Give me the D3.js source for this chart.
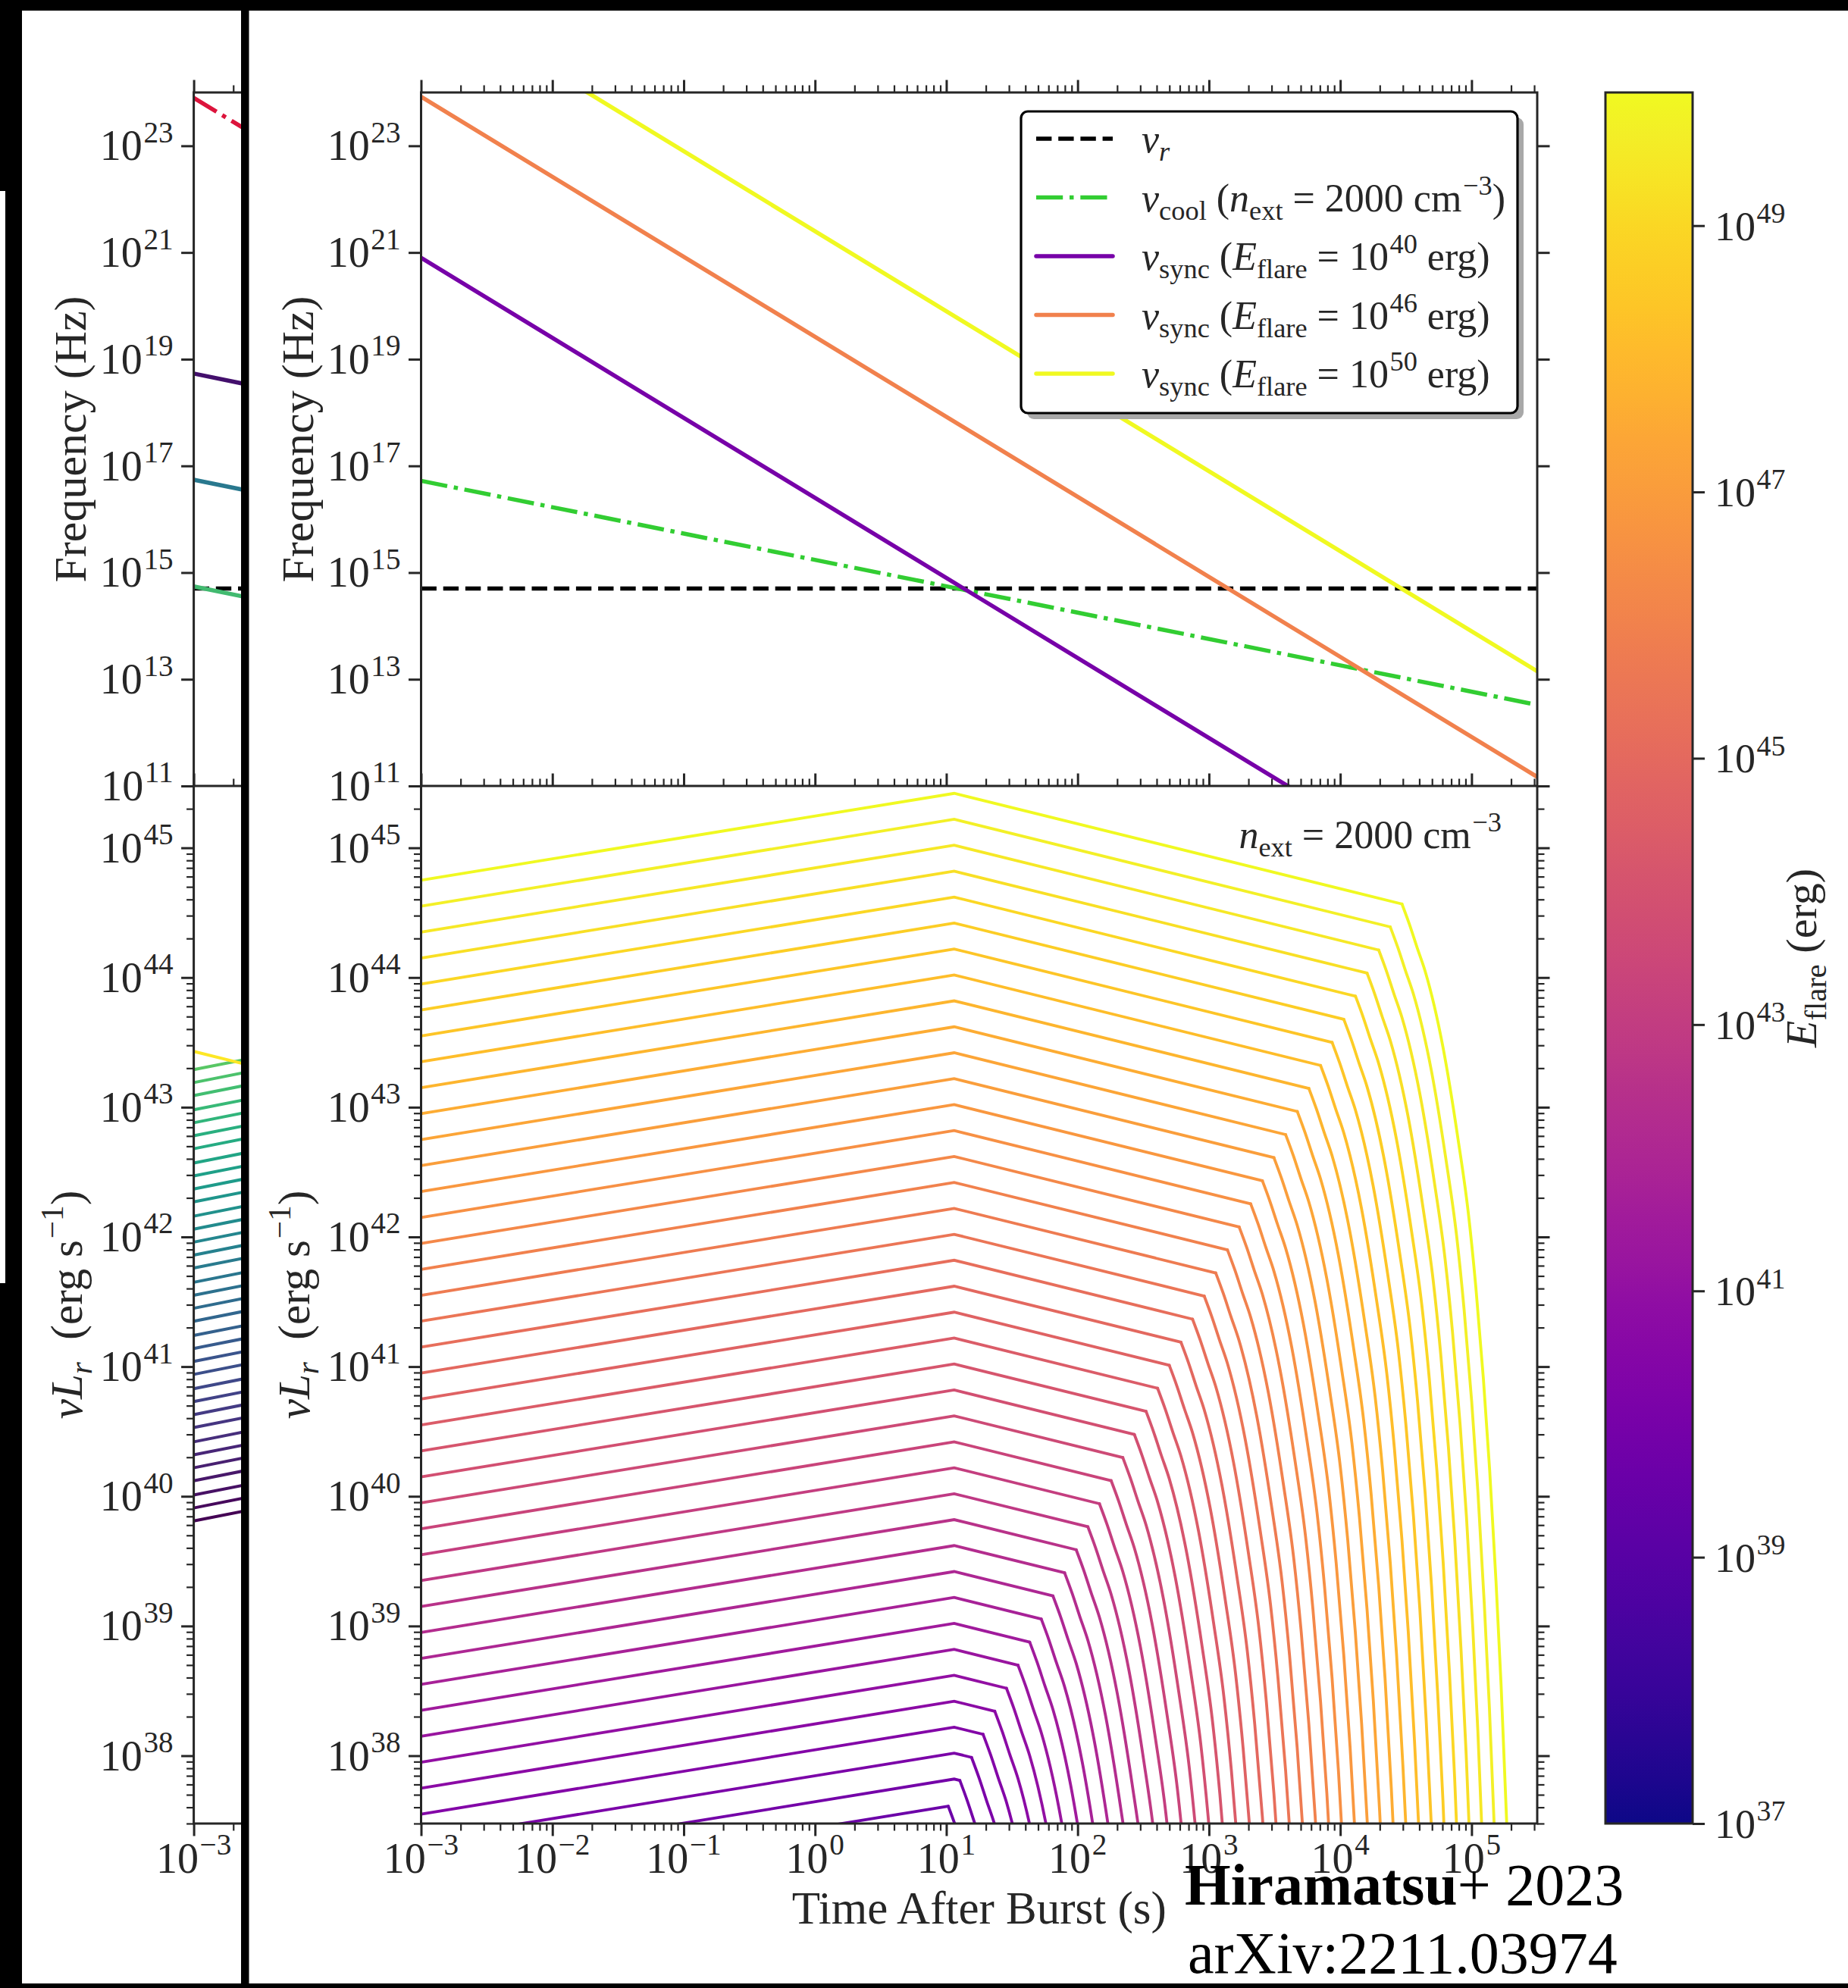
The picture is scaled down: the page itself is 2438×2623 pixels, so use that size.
<!DOCTYPE html>
<html><head><meta charset="utf-8">
<script src="https://cdn.jsdelivr.net/npm/d3@7"></script>
<style>
html,body{margin:0;padding:0;background:#fff;}
svg{display:block;}
text{font-family:"Liberation Serif","DejaVu Serif",serif;fill:#262626;white-space:pre;}
</style></head><body>
<svg id="chart" width="2438" height="2623"></svg>
<script>
// ================= DATA (log10 values) =================
const timeDomainLog = [-3, 5.5];          // Time after burst (s)
const freqDomainLog = [11, 24];           // Frequency (Hz)
const lumDomainLog  = [37.477, 45.477];   // nu L_r (erg/s)
const energyDomainLog = [37, 50];         // E_flare colorbar (erg)

const timeTickExps   = [-3,-2,-1,0,1,2,3,4,5];
const freqTickExps   = [11,13,15,17,19,21,23];
const lumTickExps    = [38,39,40,41,42,43,44,45];
const energyTickExps = [37,39,41,43,45,47,49];

// top panel: straight lines in log-log, [log t, log nu]
const nuR      = [[-3, 14.70],[5.5, 14.70]];
const nuCool   = [[-3, 16.72],[5.5, 12.52]];
const nuSync40 = [[-3, 20.90],[5.5, 8.15]];
const nuSync46 = [[-3, 23.92],[5.5, 11.17]];
const nuSync50 = [[-3, 25.90],[5.5, 13.15]];
const legendEnergies = [40, 46, 50];

// bottom panel light curves (one entry per flare energy)
const flareLogE = [50.00,49.73,49.47,49.20,48.94,48.67,48.41,48.14,47.88,47.61,
  47.35,47.08,46.82,46.55,46.29,46.02,45.76,45.49,45.22,44.96,
  44.69,44.43,44.16,43.90,43.63,43.37,43.10,42.84,42.57,42.31,
  42.04,41.78,41.51,41.24,40.98,40.71,40.45,40.18,39.92,39.65];
const startLogT = -3;
const peakLogT  = 1.06;
const lumStart = [44.75,44.55,44.35,44.15,43.95,43.75,43.55,43.35,43.15,42.95,
  42.75,42.55,42.35,42.15,41.95,41.75,41.55,41.35,41.15,40.95,
  40.75,40.55,40.35,40.15,39.95,39.75,39.55,39.35,39.15,38.95,
  38.75,38.55,38.35,38.15,37.95,37.75,37.55,37.35,37.15,36.95];
const lumPeak = [45.42,45.22,45.02,44.82,44.62,44.42,44.22,44.02,43.82,43.62,
  43.42,43.22,43.02,42.82,42.62,42.42,42.22,42.02,41.82,41.62,
  41.42,41.22,41.02,40.82,40.62,40.42,40.22,40.02,39.82,39.62,
  39.42,39.22,39.02,38.82,38.62,38.42,38.22,38.02,37.82,null];
const breakLogT = [4.470,4.381,4.293,4.204,4.116,4.027,3.938,3.850,3.761,3.673,
  3.584,3.495,3.407,3.318,3.230,3.141,3.052,2.964,2.875,2.787,
  2.698,2.609,2.521,2.432,2.344,2.255,2.166,2.078,1.989,1.901,
  1.812,1.723,1.635,1.546,1.458,1.369,1.280,1.192,1.103,1.015];
const lumBreak = [44.567,44.390,44.212,44.034,43.856,43.678,43.500,43.322,43.145,42.967,
  42.789,42.611,42.433,42.255,42.077,41.900,41.722,41.544,41.366,41.188,
  41.010,40.833,40.655,40.477,40.299,40.121,39.943,39.765,39.588,39.410,
  39.232,39.054,38.876,38.698,38.520,38.343,38.165,37.987,37.809,37.610];
// shape of the cut-off after the break, [delta log t, delta log L]
const dropShape = [[0,0],[0.058,-0.16],[0.115,-0.335],[0.177,-0.52],[0.312,-1.103],
  [0.427,-1.813],[0.505,-2.38],[0.562,-2.948],[0.62,-3.66],[0.668,-4.368],
  [0.716,-5.22],[0.755,-6.024],[0.797,-7.07],[0.84,-8.3]];

// partially hidden left panel
const leftTopStart = [23.90, 18.73, 16.74, 14.70, 14.74];
const leftTopEnd   = [23.15, 18.48, 16.49, 14.70, 14.49];
const leftTopColors = ['#dc143c','#430f6c','#29788e','#000000','#42ba70'];
const leftTopDash = ['dashdot','solid','solid','dashed','solid'];
const leftLumStart = [43.29,43.19,43.09,42.98,42.88,42.78,42.68,42.57,42.47,42.37,
  42.27,42.16,42.06,41.96,41.86,41.76,41.65,41.55,41.45,41.35,
  41.24,41.14,41.04,40.94,40.83,40.73,40.63,40.53,40.42,40.32,
  40.22,40.12,40.01,39.91,39.81];
const leftLumEnd = [43.37,43.27,43.17,43.06,42.96,42.86,42.76,42.65,42.55,42.45,
  42.35,42.24,42.14,42.04,41.94,41.84,41.73,41.63,41.53,41.43,
  41.32,41.22,41.12,41.02,40.91,40.81,40.71,40.61,40.50,40.40,
  40.30,40.20,40.09,39.99,39.89];
const leftYellow = [[-3, 43.43],[-2.6, 43.33]];

// ================= DRAWING =================
const W = 2438, H = 2623, INK = '#262626';
const p10 = v => Math.pow(10, v);
const svg = d3.select('#chart');
svg.append('rect').attr('width', W).attr('height', H).attr('fill', '#fff');

const P = {x0: 555.5, x1: 2028, yTop: 122, yMid: 1037, yBot: 2406};
const LX0 = 255.6, LCLIP = 318;

const xMain = d3.scaleLog().domain(timeDomainLog.map(p10)).range([P.x0, P.x1]);
const xLeft = d3.scaleLog().domain(timeDomainLog.map(p10)).range([LX0, LX0 + (P.x1 - P.x0)]);
const yFreq = d3.scaleLog().domain(freqDomainLog.map(p10)).range([P.yMid, P.yTop]);
const yLum  = d3.scaleLog().domain(lumDomainLog.map(p10)).range([P.yBot, P.yMid]);
const cbY   = d3.scaleLog().domain(energyDomainLog.map(p10)).range([2406, 122]);
const plasma = e => d3.interpolatePlasma((e - energyDomainLog[0]) / (energyDomainLog[1] - energyDomainLog[0]));

const defs = svg.append('defs');
function clip(id, x, y, w, h){ defs.append('clipPath').attr('id', id).append('rect').attr('x',x).attr('y',y).attr('width',w).attr('height',h); }
clip('clipTop', P.x0, P.yTop, P.x1 - P.x0, P.yMid - P.yTop);
clip('clipBot', P.x0, P.yMid, P.x1 - P.x0, P.yBot - P.yMid);
clip('clipLeft', 0, 0, LCLIP, H);
clip('clipLeftTop', LX0, P.yTop, LCLIP - LX0, P.yMid - P.yTop);
clip('clipLeftBot', LX0, P.yMid, LCLIP - LX0, P.yBot - P.yMid);

function addMath(t, segs, size){
  let cur = 0;
  segs.forEach(([str, kind, pos]) => {
    const target = pos === 'sub' ? 0.22*size : pos === 'sup' ? -0.42*size : 0;
    const fs = pos === 'b' ? size : 0.7*size;
    const ts = t.append('tspan').text(str).attr('dy', target - cur)
      .style('font-size', fs + 'px').style('font-style', kind === 'i' ? 'italic' : 'normal');
    if (pos === 'sup') ts.attr('dx', 0.03*size);
    cur = target;
  });
  return t;
}
function powLabel(g, x, y, e, anchor, size){
  const t = g.append('text').attr('x', x).attr('y', y).attr('text-anchor', anchor).style('font-size', size + 'px');
  addMath(t, [['10','r','b'], [(e < 0 ? '\u2212' + (-e) : '' + e), 'r', 'sup']], size);
}
function minorVals(lo, hi){
  const out = [];
  for (let e = Math.floor(lo); e <= Math.ceil(hi); e++)
    for (let k = 2; k <= 9; k++){ const v = Math.log10(k) + e; if (v >= lo - 1e-6 && v <= hi + 1e-6) out.push(p10(v)); }
  return out;
}
function ticks(g, axis, vals, len, w, tx, ty){
  const a = g.append('g').attr('transform', `translate(${tx},${ty})`)
    .call(axis.tickValues(vals).tickSize(len).tickSizeOuter(0).tickFormat(() => ''));
  a.select('.domain').remove();
  a.selectAll('.tick text').remove();
  a.selectAll('.tick line').attr('stroke', INK).attr('stroke-width', w);
}
const dashes = {solid: null, dashed: '20.4 8.8', dashdot: '35.2 8.8 5.5 8.8'};
function line(g, xs, ys, pts, color, w, dash, curve){
  const gen = d3.line().x(d => xs(p10(d[0]))).y(d => ys(p10(d[1])));
  if (curve) gen.curve(curve);
  g.append('path').attr('d', gen(pts)).attr('fill', 'none').attr('stroke', color)
    .attr('stroke-width', w).attr('stroke-dasharray', dashes[dash] || null)
    .attr('stroke-linecap', dash === 'solid' || !dash ? 'round' : 'butt');
}

function frame(g, xs, right){
  const xa = xs.range()[0], xb = right ? xs.range()[1] : LCLIP + 20;
  const visible = v => right || xs(v) < LCLIP;
  const tMaj = timeTickExps.map(p10).filter(visible), tMin = minorVals(timeDomainLog[0], timeDomainLog[1]).filter(visible);
  const fMaj = freqTickExps.map(p10);
  const lMaj = lumTickExps.map(p10), lMin = minorVals(lumDomainLog[0], lumDomainLog[1]);
  ticks(g, d3.axisLeft(yFreq), fMaj, 16.5, 3, xa, 0);
  if (right) ticks(g, d3.axisRight(yFreq), fMaj, 16.5, 3, xb, 0);
  ticks(g, d3.axisTop(xs), tMaj, 16.5, 3, 0, P.yTop);
  ticks(g, d3.axisTop(xs), tMin, 9.5, 2.2, 0, P.yTop);
  ticks(g, d3.axisLeft(yLum), lMaj, 16.5, 3, xa, 0);
  ticks(g, d3.axisLeft(yLum), lMin, 9.5, 2.2, xa, 0);
  if (right){ ticks(g, d3.axisRight(yLum), lMaj, 16.5, 3, xb, 0); ticks(g, d3.axisRight(yLum), lMin, 9.5, 2.2, xb, 0); }
  ticks(g, d3.axisBottom(xs), tMaj, 16.5, 3, 0, P.yBot);
  ticks(g, d3.axisBottom(xs), tMin, 9.5, 2.2, 0, P.yBot);
  ticks(g, d3.axisTop(xs), tMaj, 16.5, 3, 0, P.yMid);
  ticks(g, d3.axisTop(xs), tMin, 9.5, 2.2, 0, P.yMid);
  g.append('rect').attr('x', xa).attr('y', P.yTop).attr('width', xb - xa).attr('height', P.yBot - P.yTop)
    .attr('fill', 'none').attr('stroke', INK).attr('stroke-width', 3);
  g.append('line').attr('x1', xa).attr('x2', xb).attr('y1', P.yMid).attr('y2', P.yMid).attr('stroke', INK).attr('stroke-width', 3);
  freqTickExps.forEach(e => powLabel(g, xa - 27, yFreq(p10(e)) + 19, e, 'end', 56));
  lumTickExps.forEach(e => powLabel(g, xa - 27, yLum(p10(e)) + 19, e, 'end', 56));
  timeTickExps.filter(e => visible(p10(e))).forEach(e => powLabel(g, xs(p10(e)), 2471, e, 'middle', 56));
  const bx = xa - 143;
  g.append('text').attr('transform', `translate(${bx},${(P.yTop + P.yMid)/2}) rotate(-90)`)
    .attr('text-anchor', 'middle').style('font-size', '60px').text('Frequency (Hz)');
  const t2 = g.append('text').attr('transform', `translate(${bx - 5},${(P.yMid + P.yBot)/2}) rotate(-90)`)
    .attr('text-anchor', 'middle').style('font-size', '59px');
  addMath(t2, [['\u03bd','i','b'],['L','i','b'],['r','i','sub'],['  (erg s','r','b'],['\u22121','r','sup'],[')','r','b']], 59);
}

// ---------- left, partially hidden panel ----------
const gL = svg.append('g').attr('clip-path', 'url(#clipLeft)');
const gLT = gL.append('g').attr('clip-path', 'url(#clipLeftTop)');
leftTopStart.forEach((v, i) => line(gLT, xLeft, yFreq, [[-3, v], [-2.5, leftTopEnd[i]]], leftTopColors[i], 5.5, leftTopDash[i]));
const gLB = gL.append('g').attr('clip-path', 'url(#clipLeftBot)');
const vir = d3.scaleLinear().domain([leftLumStart.length - 1, 0]).range([0, 0.74]);
leftLumStart.forEach((v, i) => line(gLB, xLeft, yLum, [[-3, v], [-2.6, leftLumEnd[i]]], d3.interpolateViridis(vir(i)), 4, 'solid'));
line(gLB, xLeft, yLum, leftYellow, d3.interpolateViridis(1), 4, 'solid');
frame(gL, xLeft, false);

// ---------- main top panel ----------
const gT = svg.append('g').attr('clip-path', 'url(#clipTop)');
line(gT, xMain, yFreq, nuR, '#000', 5.5, 'dashed');
line(gT, xMain, yFreq, nuCool, '#32cd32', 5.5, 'dashdot');
line(gT, xMain, yFreq, nuSync40, plasma(legendEnergies[0]), 5.5, 'solid');
line(gT, xMain, yFreq, nuSync46, plasma(legendEnergies[1]), 5.5, 'solid');
line(gT, xMain, yFreq, nuSync50, plasma(legendEnergies[2]), 5.5, 'solid');

// ---------- main bottom panel ----------
const gB = svg.append('g').attr('clip-path', 'url(#clipBot)');
flareLogE.slice().reverse().forEach((e, r) => {
  const i = flareLogE.length - 1 - r;
  const col = plasma(flareLogE[i]);
  const pre = [[startLogT, lumStart[i]]];
  if (lumPeak[i] !== null) pre.push([peakLogT, lumPeak[i]]);
  pre.push([breakLogT[i], lumBreak[i]]);
  const drop = dropShape.map(([dt, dl]) => [breakLogT[i] + dt, lumBreak[i] + dl]);
  line(gB, xMain, yLum, pre, col, 3.8, 'solid');
  line(gB, xMain, yLum, drop, col, 3.8, 'solid', d3.curveMonotoneX);
});
const gM = svg.append('g');
frame(gM, xMain, true);

// annotation
addMath(gM.append('text').attr('x', 1981).attr('y', 1119).attr('text-anchor', 'end').style('font-size', '52px'),
  [['n','i','b'],['ext','r','sub'],[' = 2000 cm','r','b'],['\u22123','r','sup']], 52);

// x axis title
gM.append('text').attr('x', (P.x0 + P.x1)/2).attr('y', 2538).attr('text-anchor', 'middle')
  .style('font-size', '61px').text('Time After Burst (s)');

// ---------- legend ----------
const LG = {x: 1347, y: 147, w: 655, h: 398};
gM.append('rect').attr('x', LG.x + 8).attr('y', LG.y + 8).attr('width', LG.w).attr('height', LG.h).attr('rx', 9).attr('fill', '#a8a8a8');
gM.append('rect').attr('x', LG.x).attr('y', LG.y).attr('width', LG.w).attr('height', LG.h).attr('rx', 9)
  .attr('fill', '#fff').attr('stroke', '#000').attr('stroke-width', 3.2);
const legendRows = [
  {color: '#000', dash: 'dashed', segs: [['\u03bd','i','b'],['r','i','sub']]},
  {color: '#32cd32', dash: 'dashdot', segs: [['\u03bd','i','b'],['cool','r','sub'],[' (','r','b'],['n','i','b'],['ext','r','sub'],[' = 2000 cm','r','b'],['\u22123','r','sup'],[')','r','b']]},
];
legendEnergies.forEach(e => legendRows.push({color: plasma(e), dash: 'solid',
  segs: [['\u03bd','i','b'],['sync','r','sub'],[' (','r','b'],['E','i','b'],['flare','r','sub'],[' = 10','r','b'],['' + e,'r','sup'],[' erg)','r','b']]}));
legendRows.forEach((row, k) => {
  const yy = 183 + 77.5*k;
  gM.append('line').attr('x1', 1367).attr('x2', 1468).attr('y1', yy).attr('y2', yy)
    .attr('stroke', row.color).attr('stroke-width', 5.5).attr('stroke-dasharray', dashes[row.dash])
    .attr('stroke-linecap', row.dash === 'solid' ? 'round' : 'butt');
  addMath(gM.append('text').attr('x', 1506).attr('y', yy + 18).style('font-size', '52px'), row.segs, 52);
});

// ---------- colorbar ----------
const grad = defs.append('linearGradient').attr('id', 'cbGrad').attr('x1', 0).attr('x2', 0).attr('y1', 0).attr('y2', 1);
d3.range(0, 41).forEach(k => grad.append('stop').attr('offset', k/40).attr('stop-color', d3.interpolatePlasma(1 - k/40)));
const CB = {x: 2118, w: 115};
gM.append('rect').attr('x', CB.x).attr('y', 122).attr('width', CB.w).attr('height', 2406 - 122)
  .attr('fill', 'url(#cbGrad)').attr('stroke', INK).attr('stroke-width', 3);
ticks(gM, d3.axisRight(cbY), energyTickExps.map(p10), 16, 3, CB.x + CB.w, 0);
energyTickExps.forEach(e => powLabel(gM, 2262, cbY(p10(e)) + 19, e, 'start', 54));
addMath(gM.append('text').attr('transform', 'translate(2396,1264) rotate(-90)').attr('text-anchor', 'middle').style('font-size', '58px'),
  [['E','i','b'],['flare','r','sub'],[' (erg)','r','b']], 58);

// ---------- black framing ----------
const gF = svg.append('g');
gF.append('rect').attr('x', 0).attr('y', 0).attr('width', W).attr('height', 14).attr('fill', '#000');
gF.append('rect').attr('x', 0).attr('y', 0).attr('width', 29).attr('height', H).attr('fill', '#000');
gF.append('rect').attr('x', 0).attr('y', 252).attr('width', 7).attr('height', 1441).attr('fill', '#fff');
gF.append('rect').attr('x', LCLIP).attr('y', 0).attr('width', 10.5).attr('height', H).attr('fill', '#000');
gF.append('rect').attr('x', 0).attr('y', 2617).attr('width', W).attr('height', 6).attr('fill', '#000');

// ---------- watermark ----------
const wm = gF.append('text').attr('x', 1563).attr('y', 2513).style('font-size', '78px').style('fill', '#000');
wm.append('tspan').style('font-weight', 'bold').style('fill', '#000').text('Hiramatsu');
wm.append('tspan').style('fill', '#000').text('+ 2023');
gF.append('text').attr('x', 1567).attr('y', 2603).style('font-size', '78px').style('fill', '#000').text('arXiv:2211.03974');
</script>
</body></html>
